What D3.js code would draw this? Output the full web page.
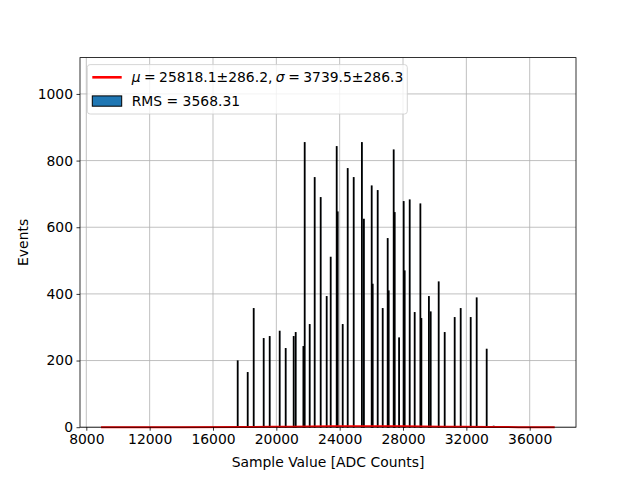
<!DOCTYPE html>
<meta charset="utf-8">
<script src="https://d3js.org/d3.v7.min.js"></script>
<style>
body { margin: 0; background: white; }
text { font-family: "DejaVu Sans", sans-serif; }
</style>
<div id="chart"></div>
<script>

// spike positions (ADC counts) and bin contents
var binStarts = [17535, 18167, 18546, 19177, 19556, 20187, 20566, 21071, 21198,
  21684, 21766, 22082, 22397, 22776, 23155, 23408, 23787, 23850, 24166, 24482,
  24861, 25378, 25504, 25997, 26060, 26376, 26692, 27007, 27070, 27386, 27450,
  27727, 28017, 28080, 28397, 28712, 29072, 29135, 29609, 29723, 30228, 30607,
  31238, 31617, 32249, 32627, 33259, 33700, 33950, 34500];
var binCounts = [199, 164, 356, 266, 272, 288, 236, 272, 284,
  242, 854, 308, 749, 689, 392, 510, 842, 646, 308, 776,
  749, 854, 624, 724, 429, 710, 356, 566, 409, 832, 644,
  268, 677, 469, 682, 344, 670, 326, 392, 346, 436, 284,
  329, 356, 329, 388, 234, 3, 2, 2];
var binWidth = 50;

// gaussian fit curve (it hugs the baseline)
var fitX = [8930, 14000, 18000, 21000, 23500, 25800, 28000, 30500, 33500, 37580];
var fitY = [0, 0.1, 0.6, 1.6, 2.6, 3.0, 2.6, 1.6, 0.5, 0];

var xTicks = [8000, 12000, 16000, 20000, 24000, 28000, 32000, 36000];
var yTicks = [0, 200, 400, 600, 800, 1000];

var margin = {top: 57.6, right: 64, bottom: 52.8, left: 80},
    width = 640 - margin.left - margin.right,
    height = 480 - margin.top - margin.bottom;

var svg = d3.select("#chart")
  .append("svg")
    .attr("width", 640)
    .attr("height", 480)
  .append("g")
    .attr("transform", "translate(" + margin.left + "," + margin.top + ")");

var x = d3.scaleLinear()
  .domain([7602, 38924])
  .range([0, width]);
var y = d3.scaleLinear()
  .domain([0, 1109])
  .range([height, 0]);

// grid
svg.append("g")
  .selectAll("line.gx")
  .data(xTicks)
  .enter().append("line")
    .attr("x1", function(d) { return x(d); })
    .attr("x2", function(d) { return x(d); })
    .attr("y1", 0).attr("y2", height)
    .style("stroke", "#b0b0b0").style("stroke-width", 0.8);
svg.append("g")
  .selectAll("line.gy")
  .data(yTicks)
  .enter().append("line")
    .attr("y1", function(d) { return y(d); })
    .attr("y2", function(d) { return y(d); })
    .attr("x1", 0).attr("x2", width)
    .style("stroke", "#b0b0b0").style("stroke-width", 0.8);

// histogram bins
var bins = binStarts.map(function(b, i) { return {x0: b, n: binCounts[i]}; });
svg.append("g")
  .selectAll("rect")
  .data(bins)
  .enter().append("rect")
    .attr("x", function(d) { return x(d.x0); })
    .attr("width", function(d) { return x(d.x0 + binWidth) - x(d.x0); })
    .attr("y", function(d) { return y(d.n); })
    .attr("height", function(d) { return y(0) - y(d.n); })
    .style("fill", "#1f77b4")
    .style("stroke", "black")
    .style("stroke-width", 1);

// fit line
var line = d3.line()
  .x(function(d) { return x(d[0]); })
  .y(function(d) { return y(d[1]); })
  .curve(d3.curveMonotoneX);
svg.append("path")
  .datum(fitX.map(function(v, i) { return [v, fitY[i]]; }))
  .attr("d", line)
  .style("fill", "none")
  .style("stroke", "red")
  .style("stroke-width", 2);

// axes
var xAxis = svg.append("g")
  .attr("transform", "translate(0," + height + ")")
  .call(d3.axisBottom(x).tickValues(xTicks).tickSize(3.5).tickPadding(3.5).tickFormat(d3.format("d")));
var yAxis = svg.append("g")
  .call(d3.axisLeft(y).tickValues(yTicks).tickSize(3.5).tickPadding(3.5).tickFormat(d3.format("d")));
[xAxis, yAxis].forEach(function(a) {
  a.select(".domain").remove();
  a.selectAll(".tick line").style("stroke", "black").style("stroke-width", 0.8);
  a.selectAll(".tick text").style("font-size", "13.9px").style("font-family", "DejaVu Sans").style("fill", "black");
});

// frame
svg.append("rect")
  .attr("width", width).attr("height", height)
  .style("fill", "none").style("stroke", "black").style("stroke-width", 0.8);

// labels
svg.append("text")
  .attr("x", width / 2).attr("y", height + 40)
  .attr("text-anchor", "middle")
  .style("font-size", "13.9px")
  .text("Sample Value [ADC Counts]");
svg.append("text")
  .attr("transform", "translate(" + (-52) + "," + (height / 2) + ") rotate(-90)")
  .attr("text-anchor", "middle")
  .style("font-size", "13.9px")
  .text("Events");

// legend
var lg = svg.append("g").attr("transform", "translate(7.3,7)");
lg.append("rect")
  .attr("width", 320).attr("height", 49.4)
  .attr("rx", 2.8)
  .style("fill", "white").style("fill-opacity", 0.8)
  .style("stroke", "#cccccc").style("stroke-width", 0.8);
lg.append("line")
  .attr("x1", 5).attr("x2", 34.4).attr("y1", 12.7).attr("y2", 12.7)
  .style("stroke", "red").style("stroke-width", 2.6);
var t1 = lg.append("text")
  .attr("x", 44.4).attr("y", 17.6)
  .style("font-size", "13.9px");
t1.append("tspan").style("font-style", "italic").text("μ");
t1.append("tspan").text("\u2005=\u200525818.1±286.2,\u2005");
t1.append("tspan").style("font-style", "italic").text("σ");
t1.append("tspan").text("\u2005=\u20053739.5±286.3");
lg.append("rect")
  .attr("x", 5).attr("y", 31.3).attr("width", 29.4).attr("height", 10.3)
  .style("fill", "#1f77b4").style("stroke", "black").style("stroke-width", 1);
lg.append("text")
  .attr("x", 44.4).attr("y", 41.2)
  .style("font-size", "13.9px")
  .text("RMS = 3568.31");

</script>
